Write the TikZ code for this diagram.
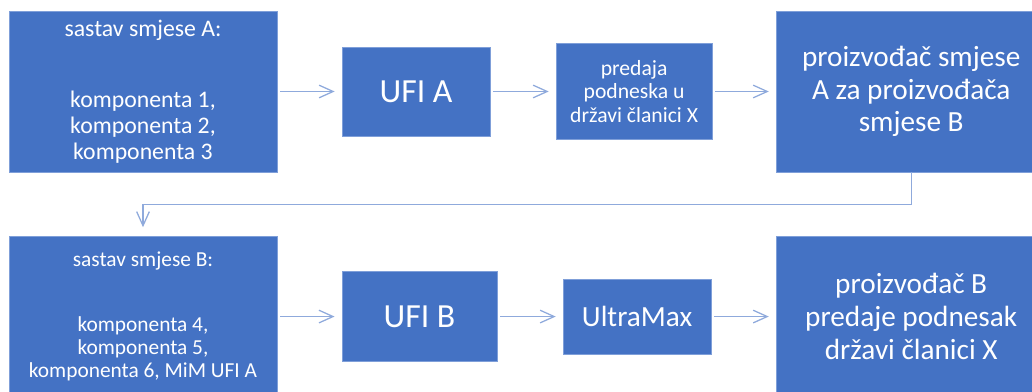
\documentclass[tikz,border=0pt]{standalone}
\usepackage{fontspec}
\setmainfont{Carlito}
\usetikzlibrary{arrows.meta,positioning,calc}
\definecolor{boxblue}{HTML}{4472C4}
\definecolor{boxline}{HTML}{7F9FD9}
\definecolor{flowline}{HTML}{8FAADC}

\begin{document}
\begin{tikzpicture}[x=0.025cm, y=-0.025cm, on grid,
	>={Straight Barb[length=10pt,width=9pt]},
	box/.style={rectangle, fill=boxblue, draw=boxline, line width=0.5pt, text=white, align=center, inner sep=0pt},
	flow/.style={draw=flowline, line width=0.9pt, ->, shorten <=2pt, shorten >=5pt}]
			\useasboundingbox (0,0) rectangle (1032,392);
			\clip (0,0) rectangle (1032,392);
			\node[box, minimum width=6.7cm, minimum height=4.025cm, font=\fontsize{16.9}{18.5}\selectfont] (mixA) at (143,91.5) {sastav smjese A:\\[32pt]komponenta 1,\\komponenta 2,\\komponenta 3};
			\node[box, minimum width=3.7cm, minimum height=2.225cm, font=\fontsize{24}{26}\selectfont] (ufiA) [right = 6.825cm of mixA] {UFI A};
			\node[box, minimum width=3.9cm, minimum height=2.4cm, font=\fontsize{15.4}{16.7}\selectfont] (submitA) [right = 5.45cm of ufiA] {predaja\\podneska u\\državi članici X};
			\node[box, minimum width=6.75cm, minimum height=4.025cm, font=\fontsize{20.8}{23.2}\selectfont] (makerA) [right = 6.925cm of submitA] {proizvođač smjese\\A za proizvođača\\smjese B};
			\node[box, minimum width=6.7cm, minimum height=4.025cm, font=\fontsize{15.2}{16.4}\selectfont] (mixB) [below = 5.625cm of mixA] {sastav smjese B:\\[30pt]komponenta 4,\\komponenta 5,\\komponenta 6, MiM UFI A};
			\node[box, minimum width=3.875cm, minimum height=2.25cm, font=\fontsize{24}{26}\selectfont] (ufiB) [right = 6.91cm of mixB] {UFI B};
			\node[box, minimum width=3.7cm, minimum height=1.875cm, font=\fontsize{20.8}{23.2}\selectfont] (ultra) [right = 5.44cm of ufiB] {UltraMax};
			\node[box, minimum width=6.75cm, minimum height=4cm, font=\fontsize{20.8}{23.2}\selectfont] (makerB) [right = 6.85cm of ultra] {proizvođač B\\predaje podnesak\\državi članici X};
			
			
			\path (mixA) edge [flow] (ufiA);
			\path (ufiA) edge [flow] (submitA);
			\path (submitA) edge [flow] (makerA);
			\draw [flow, shorten <=0pt, shorten >=6pt] (makerA.south) -- ++(0,32) -| (mixB.north);
			\path (mixB) edge [flow] (ufiB);
			\path (ufiB) edge [flow] (ultra);
			\path (ultra) edge [flow] (makerB);
			\end{tikzpicture}
\end{document}
